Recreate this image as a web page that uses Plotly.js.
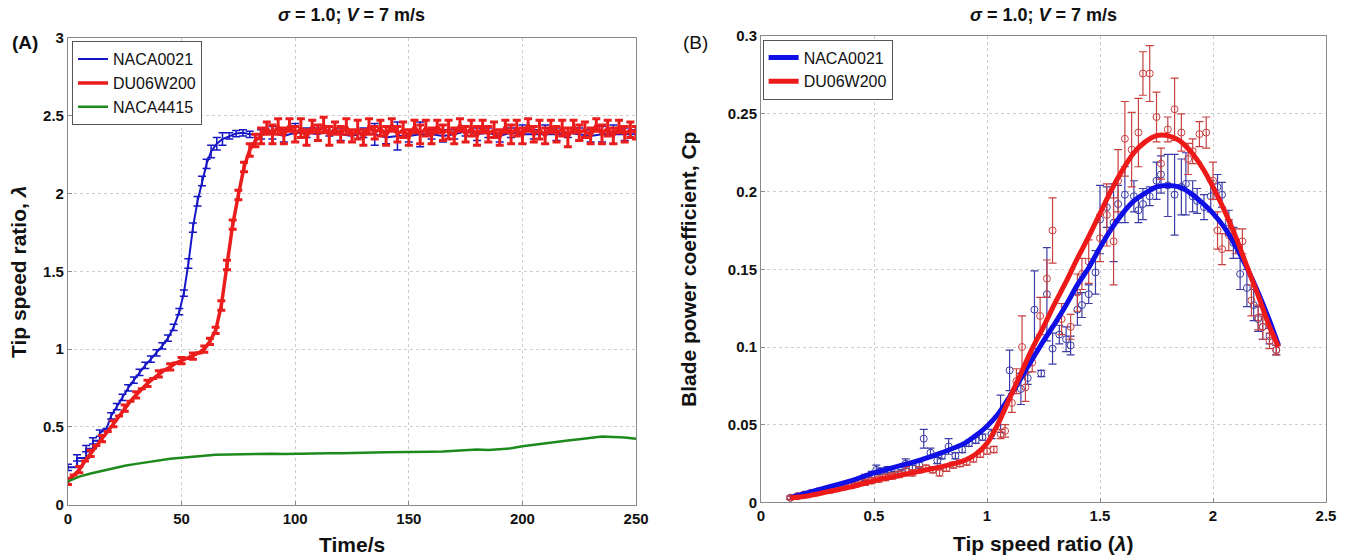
<!DOCTYPE html>
<html>
<head>
<meta charset="utf-8">
<script src="https://cdn.plot.ly/plotly-3.0.1.min.js"></script>
<style>
  html, body { margin: 0; padding: 0; background: #fff; }
  #chart { width: 1351px; height: 557px; }
</style>
</head>
<body>
<div id="chart"></div>
<script>
// (A) tip speed ratio against time
var blueTime = [0, 4, 4, 8, 8, 11, 11, 14, 14, 17, 19, 21.5, 24, 26.5, 29, 31.5, 34, 36.5, 39, 41.5, 44, 46.5, 49, 51, 53, 55, 57, 59, 61, 63, 65.5, 68, 71, 74, 77, 80,
  85, 90, 95, 100, 105, 110, 115, 120, 125, 130, 135, 140, 145, 150, 155, 160, 165, 170, 175, 180, 185, 190, 195, 200, 205, 210, 215, 220, 225, 230, 235, 240, 245, 250];
var blueTsr = [0.24, 0.24, 0.30, 0.30, 0.36, 0.36, 0.41, 0.41, 0.46, 0.49, 0.57, 0.63, 0.69, 0.75, 0.80, 0.85, 0.895, 0.935, 0.975, 1.02, 1.07, 1.14, 1.24, 1.36, 1.55, 1.78, 1.95, 2.08, 2.19, 2.27, 2.32, 2.35, 2.37, 2.385, 2.39, 2.38,
  2.38, 2.39, 2.37, 2.39, 2.39, 2.38, 2.40, 2.38, 2.37, 2.39, 2.38, 2.36, 2.37, 2.37, 2.38, 2.38, 2.37, 2.38, 2.40, 2.38, 2.39, 2.37, 2.39, 2.38, 2.38, 2.38, 2.38, 2.39, 2.38, 2.37, 2.38, 2.38, 2.38, 2.38];
var blueErr = [0.02, 0, 0.02, 0, 0.02, 0, 0.02, 0, 0.02, 0, 0.02, 0.02, 0.02, 0.02, 0.02, 0.02, 0.02, 0.02, 0.02, 0.02, 0.02, 0.02, 0.02, 0.02, 0.03, 0.03, 0.03, 0.03, 0.03, 0.04, 0.04, 0.04, 0.02, 0.02, 0.02, 0.02,
  0.03, 0.04, 0.04, 0.06, 0.03, 0.04, 0.03, 0.04, 0.04, 0.03, 0.07, 0.04, 0.09, 0.04, 0.08, 0.03, 0.04, 0.03, 0.03, 0.04, 0.03, 0.04, 0.03, 0.06, 0.03, 0.06, 0.04, 0.03, 0.04, 0.04, 0.05, 0.06, 0.04, 0.03];

var redTime = [0, 2.5, 5, 7.5, 10, 12.5, 15, 17.5, 20, 22.5, 25, 27.5, 30, 32.5, 35, 37.5, 40, 42.5, 45, 47.5, 50, 52.5, 55, 57.5, 60, 62.5, 65, 67.5, 70, 72.5, 75, 77.5, 80, 82.5,
  85, 87.5, 90, 92.5, 95, 97.5, 100, 102.5, 105, 107.5, 110, 112.5, 115, 117.5, 120, 122.5, 125, 127.5, 130, 132.5, 135, 137.5, 140, 142.5, 145, 147.5, 150, 152.5, 155, 157.5, 160, 162.5,
  165, 167.5, 170, 172.5, 175, 177.5, 180, 182.5, 185, 187.5, 190, 192.5, 195, 197.5, 200, 202.5, 205, 207.5, 210, 212.5, 215, 217.5, 220, 222.5, 225, 227.5, 230, 232.5, 235, 237.5, 240, 242.5, 245, 247.5, 250];
var redTsr = [0.15, 0.19, 0.225, 0.28, 0.33, 0.38, 0.425, 0.47, 0.52, 0.57, 0.62, 0.665, 0.705, 0.745, 0.78, 0.81, 0.84, 0.865, 0.885, 0.91, 0.925, 0.94, 0.955, 0.975, 1.0, 1.05, 1.12, 1.28, 1.54, 1.80, 1.99, 2.17, 2.28, 2.34,
  2.37, 2.42, 2.38, 2.43, 2.37, 2.44, 2.38, 2.42, 2.36, 2.43, 2.39, 2.44, 2.37, 2.42, 2.38, 2.43, 2.37, 2.41, 2.36, 2.43, 2.39, 2.42, 2.37, 2.44, 2.38, 2.41, 2.36, 2.43, 2.38, 2.42, 2.37, 2.43,
  2.39, 2.41, 2.37, 2.44, 2.38, 2.42, 2.37, 2.43, 2.38, 2.41, 2.36, 2.43, 2.38, 2.42, 2.37, 2.44, 2.38, 2.41, 2.37, 2.43, 2.38, 2.42, 2.36, 2.43, 2.39, 2.41, 2.37, 2.44, 2.38, 2.42, 2.37, 2.43, 2.38, 2.41, 2.39];
var redErr = [0.02, 0, 0.02, 0, 0.02, 0, 0.02, 0, 0.02, 0, 0.02, 0, 0.02, 0, 0.02, 0, 0.02, 0, 0.02, 0, 0.02, 0, 0.02, 0, 0.02, 0.02, 0.02, 0.03, 0.03, 0.03, 0.03, 0.03, 0.04, 0.04,
  0.05, 0.04, 0.06, 0.05, 0.05, 0.04, 0.05, 0.06, 0.05, 0.04, 0.05, 0.05, 0.06, 0.04, 0.05, 0.05, 0.04, 0.06, 0.05, 0.05, 0.04, 0.05, 0.06, 0.04, 0.05, 0.05, 0.05, 0.04, 0.06, 0.05, 0.05, 0.04,
  0.05, 0.06, 0.05, 0.04, 0.05, 0.05, 0.06, 0.04, 0.05, 0.05, 0.05, 0.04, 0.06, 0.05, 0.05, 0.04, 0.05, 0.06, 0.05, 0.04, 0.05, 0.05, 0.06, 0.04, 0.05, 0.05, 0.05, 0.04, 0.06, 0.05, 0.05, 0.04, 0.05, 0.05, 0.04];

var greenTime = [0, 5, 10, 15, 20, 25, 30, 35, 40, 45, 50, 55, 60, 65, 70, 75, 80, 85, 90, 95, 100, 105, 110, 115, 120, 125, 130, 135, 140, 145, 150,
  155, 160, 165, 170, 175, 180, 185, 190, 195, 200, 205, 210, 215, 220, 225, 230, 235, 240, 245, 250];
var greenTsr = [0.15, 0.18, 0.20, 0.218, 0.235, 0.25, 0.262, 0.274, 0.285, 0.295, 0.302, 0.31, 0.315, 0.32, 0.322, 0.322, 0.325, 0.325, 0.327, 0.325, 0.327, 0.325, 0.328, 0.33, 0.33, 0.333, 0.335, 0.335, 0.337, 0.337, 0.338,
  0.34, 0.34, 0.342, 0.345, 0.352, 0.355, 0.352, 0.355, 0.362, 0.375, 0.385, 0.395, 0.405, 0.412, 0.42, 0.428, 0.438, 0.435, 0.432, 0.424];

// (B) power coefficient against tip speed ratio: measured points
var blueLam = [0.13, 0.16, 0.19, 0.22, 0.25, 0.28, 0.31, 0.34, 0.37, 0.40, 0.43, 0.46, 0.49, 0.51, 0.53, 0.56, 0.59, 0.62, 0.64, 0.67, 0.70, 0.72, 0.75, 0.78, 0.80, 0.83, 0.86, 0.89, 0.92, 0.95, 0.98,
  1.02, 1.06, 1.10, 1.15, 1.18, 1.21, 1.24, 1.265, 1.29, 1.32, 1.35, 1.37, 1.40, 1.42, 1.45, 1.48, 1.50, 1.53, 1.56, 1.58, 1.61, 1.65, 1.67, 1.69, 1.72, 1.75, 1.77, 1.80, 1.83, 1.86, 1.88,
  1.91, 1.93, 1.96, 1.99, 2.02, 2.04, 2.07, 2.09, 2.12, 2.15, 2.18, 2.20, 2.22, 2.25, 2.28];
var blueCp = [0.003, 0.004, 0.005, 0.006, 0.007, 0.008, 0.009, 0.010, 0.011, 0.012, 0.014, 0.016, 0.018, 0.021, 0.020, 0.021, 0.018, 0.019, 0.025, 0.022, 0.024, 0.041, 0.032, 0.027, 0.030, 0.036, 0.030, 0.034, 0.038, 0.040, 0.042,
  0.044, 0.057, 0.085, 0.073, 0.080, 0.124, 0.083, 0.134, 0.099, 0.108, 0.105, 0.101, 0.124, 0.127, 0.134, 0.148, 0.182, 0.190, 0.180, 0.192, 0.198, 0.197, 0.188, 0.192, 0.197, 0.207, 0.211, 0.204, 0.198, 0.203, 0.205,
  0.197, 0.194, 0.190, 0.197, 0.203, 0.198, 0.180, 0.167, 0.147, 0.138, 0.127, 0.118, 0.113, 0.107, 0.098];
var blueCpErr = [0.001, 0.001, 0.001, 0.001, 0.001, 0.001, 0.001, 0.001, 0.001, 0.002, 0.002, 0.002, 0.002, 0.003, 0.002, 0.002, 0.002, 0.002, 0.003, 0.002, 0.002, 0.006, 0.003, 0.002, 0.002, 0.005, 0.002, 0.002, 0.002, 0.002, 0.002,
  0.003, 0.012, 0.013, 0.010, 0.004, 0.025, 0.002, 0.030, 0.010, 0.006, 0.008, 0.006, 0.010, 0.008, 0.006, 0.014, 0.022, 0.013, 0.025, 0.012, 0.018, 0.010, 0.008, 0.010, 0.006, 0.012, 0.012, 0.020, 0.026, 0.018, 0.020,
  0.010, 0.008, 0.008, 0.010, 0.008, 0.008, 0.008, 0.010, 0.010, 0.012, 0.010, 0.008, 0.008, 0.005, 0.003];

var redLam = [0.13, 0.16, 0.19, 0.22, 0.25, 0.28, 0.31, 0.34, 0.37, 0.40, 0.43, 0.46, 0.49, 0.52, 0.55, 0.58, 0.61, 0.64, 0.67, 0.70, 0.73, 0.76, 0.79, 0.82, 0.85, 0.88, 0.91, 0.94, 0.97, 1.00,
  1.03, 1.06, 1.08, 1.11, 1.13, 1.155, 1.17, 1.20, 1.235, 1.265, 1.29, 1.33, 1.37, 1.40, 1.42, 1.45, 1.50, 1.53, 1.56, 1.58, 1.61, 1.64, 1.67, 1.69, 1.72, 1.75, 1.77, 1.80, 1.83, 1.86,
  1.89, 1.91, 1.94, 1.97, 2.00, 2.02, 2.04, 2.07, 2.10, 2.13, 2.17, 2.20, 2.22, 2.25, 2.28];
var redCp = [0.003, 0.004, 0.005, 0.006, 0.007, 0.008, 0.008, 0.009, 0.010, 0.011, 0.012, 0.013, 0.014, 0.015, 0.016, 0.017, 0.018, 0.020, 0.019, 0.021, 0.022, 0.021, 0.019, 0.022, 0.024, 0.025, 0.026, 0.028, 0.031, 0.033,
  0.034, 0.044, 0.046, 0.064, 0.078, 0.100, 0.074, 0.090, 0.120, 0.144, 0.175, 0.118, 0.113, 0.135, 0.147, 0.155, 0.170, 0.185, 0.168, 0.207, 0.234, 0.227, 0.238, 0.276, 0.276, 0.248, 0.218, 0.240, 0.253, 0.238,
  0.221, 0.226, 0.237, 0.238, 0.207, 0.175, 0.163, 0.172, 0.168, 0.168, 0.130, 0.119, 0.113, 0.104, 0.098];
var redCpErr = [0.001, 0.001, 0.001, 0.001, 0.001, 0.001, 0.001, 0.001, 0.001, 0.001, 0.001, 0.002, 0.002, 0.002, 0.002, 0.002, 0.002, 0.003, 0.002, 0.002, 0.002, 0.002, 0.002, 0.002, 0.002, 0.002, 0.002, 0.002, 0.002, 0.002,
  0.002, 0.003, 0.004, 0.006, 0.008, 0.020, 0.009, 0.006, 0.012, 0.012, 0.021, 0.010, 0.008, 0.012, 0.010, 0.014, 0.015, 0.020, 0.028, 0.020, 0.024, 0.024, 0.022, 0.014, 0.018, 0.016, 0.010, 0.008, 0.020, 0.012,
  0.010, 0.008, 0.008, 0.010, 0.012, 0.012, 0.010, 0.010, 0.008, 0.008, 0.010, 0.008, 0.008, 0.005, 0.003];

// (B) fitted curves
var fitLam = [0.13, 0.2, 0.3, 0.4, 0.5, 0.6, 0.7, 0.8, 0.9, 0.95, 1.0, 1.05, 1.1, 1.15, 1.2, 1.25, 1.3, 1.35, 1.4, 1.45, 1.5, 1.55, 1.6, 1.65, 1.7, 1.75, 1.8,
  1.85, 1.9, 1.95, 2.0, 2.05, 2.1, 2.15, 2.2, 2.25, 2.29];
var fitBlue = [0.003, 0.006, 0.010, 0.014, 0.019, 0.023, 0.027, 0.032, 0.038, 0.043, 0.049, 0.057, 0.068, 0.080, 0.092, 0.104, 0.115, 0.127, 0.140, 0.151, 0.164, 0.176, 0.186, 0.194, 0.199, 0.203, 0.204,
  0.203, 0.199, 0.193, 0.186, 0.177, 0.165, 0.151, 0.135, 0.117, 0.101];
var fitRed = [0.003, 0.004, 0.007, 0.010, 0.014, 0.017, 0.020, 0.023, 0.027, 0.031, 0.038, 0.051, 0.067, 0.083, 0.099, 0.113, 0.128, 0.142, 0.157, 0.171, 0.186, 0.201, 0.214, 0.225, 0.232, 0.236, 0.236,
  0.233, 0.226, 0.216, 0.203, 0.188, 0.171, 0.152, 0.133, 0.113, 0.100];

var BLUE = '#1616c4';
var RED = '#ea1c1c';
var GREEN = '#1e8a1e';
var FONT = 'Liberation Sans Narrow, Arial Narrow, Liberation Sans, Arial, sans-serif';

var traces = [
  {
    x: blueTime, y: blueTsr, name: 'NACA0021', mode: 'lines', legend: 'legend',
    line: {color: BLUE, width: 2},
    error_y: {type: 'data', array: blueErr, color: BLUE, thickness: 1.5, width: 4}
  },
  {
    x: redTime, y: redTsr, name: 'DU06W200', mode: 'lines', legend: 'legend',
    line: {color: RED, width: 3.5},
    error_y: {type: 'data', array: redErr, color: RED, thickness: 3, width: 4}
  },
  {
    x: greenTime, y: greenTsr, name: 'NACA4415', mode: 'lines', legend: 'legend',
    line: {color: GREEN, width: 2.5}
  },
  {
    x: blueLam, y: blueCp, mode: 'markers', showlegend: false, xaxis: 'x2', yaxis: 'y2',
    marker: {symbol: 'circle-open', size: 7, color: '#3c3ca6', line: {width: 1}},
    error_y: {type: 'data', array: blueCpErr, color: '#3c3ca6', thickness: 1.2, width: 4}
  },
  {
    x: redLam, y: redCp, mode: 'markers', showlegend: false, xaxis: 'x2', yaxis: 'y2',
    marker: {symbol: 'circle-open', size: 7, color: '#c94040', line: {width: 1}},
    error_y: {type: 'data', array: redCpErr, color: '#c94040', thickness: 1.2, width: 4}
  },
  {
    x: fitLam, y: fitBlue, name: 'NACA0021', mode: 'lines', xaxis: 'x2', yaxis: 'y2', legend: 'legend2',
    line: {color: '#1010e6', width: 5, shape: 'spline', smoothing: 0.8}
  },
  {
    x: fitLam, y: fitRed, name: 'DU06W200', mode: 'lines', xaxis: 'x2', yaxis: 'y2', legend: 'legend2',
    line: {color: '#ee1a1a', width: 5, shape: 'spline', smoothing: 0.8}
  }
];

function axisStyle(extra) {
  var base = {
    showgrid: true,
    gridcolor: '#cdcdcd',
    griddash: 'dot',
    gridwidth: 1,
    zeroline: false,
    showline: true,
    mirror: true,
    linecolor: '#8a8a8a',
    linewidth: 1,
    ticks: 'inside',
    ticklen: 4,
    tickcolor: '#8a8a8a',
    automargin: false,
    tickfont: {family: FONT, size: 15, color: '#111', weight: 'bold'}
  };
  for (var k in extra) base[k] = extra[k];
  return base;
}

var titleFont = {family: FONT, size: 18, color: '#111', weight: 'bold'};
var axisTitleFont = {family: FONT, size: 21, color: '#111', weight: 'bold'};

var layout = {
  width: 1351,
  height: 557,
  margin: {l: 0, r: 0, t: 0, b: 0},
  paper_bgcolor: '#ffffff',
  plot_bgcolor: '#ffffff',
  showlegend: true,
  hovermode: false,
  xaxis: axisStyle({domain: [0.0503, 0.4708], range: [0, 250], tickvals: [0, 50, 100, 150, 200, 250], anchor: 'y'}),
  yaxis: axisStyle({domain: [0.094, 0.932], range: [0, 3], tickvals: [0, 0.5, 1, 1.5, 2, 2.5, 3], anchor: 'x'}),
  xaxis2: axisStyle({domain: [0.5633, 0.9815], range: [0, 2.5], tickvals: [0, 0.5, 1, 1.5, 2, 2.5], anchor: 'y2'}),
  yaxis2: axisStyle({domain: [0.098, 0.935], range: [0, 0.3], tickvals: [0, 0.05, 0.1, 0.15, 0.2, 0.25, 0.3], anchor: 'x2'}),
  legend: {
    x: 0.0533, y: 0.926, xanchor: 'left', yanchor: 'top',
    bgcolor: '#ffffff', bordercolor: '#555', borderwidth: 1,
    font: {family: FONT, size: 16, color: '#111'},
    itemwidth: 30, tracegroupgap: 0
  },
  legend2: {
    x: 0.5645, y: 0.929, xanchor: 'left', yanchor: 'top',
    bgcolor: '#ffffff', bordercolor: '#555', borderwidth: 1,
    font: {family: FONT, size: 16, color: '#111'},
    itemwidth: 30, tracegroupgap: 0
  },
  annotations: [
    {text: '<i>σ</i> = 1.0; <i>V</i> = 7 m/s', x: 352, y: 15, showarrow: false, font: titleFont},
    {text: '<i>σ</i> = 1.0; <i>V</i> = 7 m/s', x: 1043, y: 15, showarrow: false, font: titleFont},
    {text: '(A)', x: 25, y: 42, showarrow: false, font: {family: FONT, size: 19, color: '#111', weight: 'bold'}},
    {text: '(B)', x: 695, y: 42, showarrow: false, font: {family: 'Liberation Sans, Arial, sans-serif', size: 19, color: '#111'}},
    {text: 'Time/s', x: 352, y: 544, showarrow: false, font: axisTitleFont},
    {text: 'Tip speed ratio (<i>λ</i>)', x: 1043, y: 543, showarrow: false, font: axisTitleFont},
    {text: 'Tip speed ratio, <i>λ</i>', x: 18, y: 272, textangle: -90, showarrow: false, font: axisTitleFont},
    {text: 'Blade power coefficient, Cp', x: 688, y: 270, textangle: -90, showarrow: false, font: axisTitleFont}
  ]
};

// annotation positions are given in pixels above; convert to paper fractions
layout.annotations.forEach(function (a) {
  a.xref = 'paper';
  a.yref = 'paper';
  a.x = a.x / layout.width;
  a.y = 1 - a.y / layout.height;
  a.xanchor = 'center';
  a.yanchor = 'middle';
});

Plotly.newPlot('chart', traces, layout, {staticPlot: true, displayModeBar: false});
</script>
</body>
</html>
